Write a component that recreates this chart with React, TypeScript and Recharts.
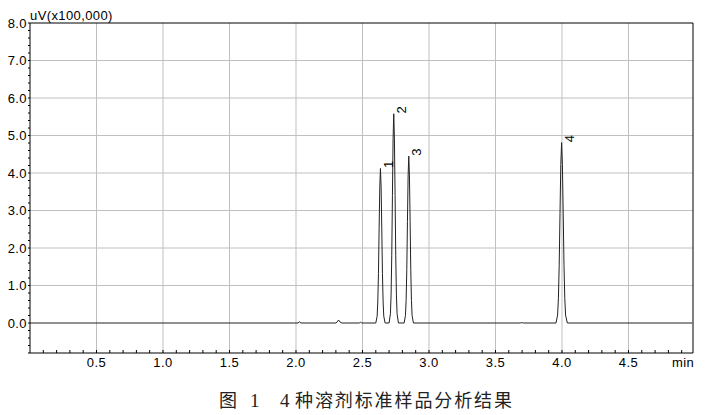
import React from 'react';
import {
  ComposedChart,
  Line,
  Scatter,
  XAxis,
  YAxis,
  ReferenceLine,
  LabelList,
  Customized,
} from 'recharts';

// ---- data ----
const times: number[] = [
  0, 2.0, 2.015, 2.026, 2.037, 2.3, 2.31, 2.32, 2.33, 2.345, 2.475, 2.485, 2.495,
  2.6, 2.61, 2.615, 2.62, 2.625, 2.63, 2.635, 2.64, 2.645, 2.65, 2.655, 2.66, 2.67,
  2.7, 2.71, 2.715, 2.72, 2.725, 2.73, 2.735, 2.74, 2.745, 2.75, 2.755, 2.76, 2.77,
  2.813, 2.823, 2.828, 2.833, 2.838, 2.843, 2.848, 2.853, 2.858, 2.863, 2.868, 2.873, 2.883,
  3.685, 3.697, 3.71,
  3.955, 3.967, 3.973, 3.979, 3.985, 3.991, 3.997, 4.003, 4.009, 4.015, 4.021, 4.027, 4.04,
  4.98,
];
const signal: number[] = [
  0, 0, 0, 0.03, 0, 0, 0.03, 0.08, 0.03, 0, 0, 0.02, 0,
  0, 0.18, 0.56, 1.32, 2.51, 3.63, 4.12, 3.63, 2.51, 1.32, 0.56, 0.18, 0,
  0, 0.25, 0.75, 1.79, 3.4, 4.91, 5.58, 4.91, 3.4, 1.79, 0.75, 0.25, 0,
  0, 0.2, 0.6, 1.42, 2.71, 3.92, 4.45, 3.92, 2.71, 1.42, 0.6, 0.2, 0,
  0, 0.01, 0,
  0, 0.21, 0.65, 1.54, 2.93, 4.23, 4.81, 4.23, 2.93, 1.54, 0.65, 0.21, 0,
  0,
];
const peakTimes: number[] = [2.635, 2.735, 2.848, 3.997];
const peakHeights: number[] = [4.12, 5.58, 4.45, 4.81];
const peakLabels: string[] = ['1', '2', '3', '4'];

const xMajorTicks: number[] = [0.5, 1.0, 1.5, 2.0, 2.5, 3.0, 3.5, 4.0, 4.5];
const xMajorLabels: string[] = ['0.5', '1.0', '1.5', '2.0', '2.5', '3.0', '3.5', '4.0', '4.5'];
const xAllTicks: number[] = [
  0.1, 0.2, 0.3, 0.4, 0.5, 0.6, 0.7, 0.8, 0.9, 1.0,
  1.1, 1.2, 1.3, 1.4, 1.5, 1.6, 1.7, 1.8, 1.9, 2.0,
  2.1, 2.2, 2.3, 2.4, 2.5, 2.6, 2.7, 2.8, 2.9, 3.0,
  3.1, 3.2, 3.3, 3.4, 3.5, 3.6, 3.7, 3.8, 3.9, 4.0,
  4.1, 4.2, 4.3, 4.4, 4.5, 4.6, 4.7, 4.8, 4.9,
];
const yMajorTicks: number[] = [0, 1, 2, 3, 4, 5, 6, 7, 8];
const yMajorLabels: string[] = ['0.0', '1.0', '2.0', '3.0', '4.0', '5.0', '6.0', '7.0', '8.0'];
const yAllTicks: number[] = [
  -0.8, -0.6, -0.4, -0.2, 0, 0.2, 0.4, 0.6, 0.8, 1, 1.2, 1.4, 1.6, 1.8, 2,
  2.2, 2.4, 2.6, 2.8, 3, 3.2, 3.4, 3.6, 3.8, 4, 4.2, 4.4, 4.6, 4.8, 5,
  5.2, 5.4, 5.6, 5.8, 6, 6.2, 6.4, 6.6, 6.8, 7, 7.2, 7.4, 7.6, 7.8, 8,
];
const xDomain: [number, number] = [0, 4.985];
const yDomain: [number, number] = [-0.8, 8];
const yUnitLabel = 'uV(x100,000)';
const xUnitLabel = 'min';
const captionFig = '图';
const captionNum = '1';
const captionN = '4';
const captionText = '种溶剂标准样品分析结果';

const chartData = times.map((t, i) => ({ t, v: signal[i] }));
const peakData = peakTimes.map((t, i) => ({ t, v: peakHeights[i], label: peakLabels[i] }));

const FONT = '"Liberation Sans", Arial, sans-serif';

const findLabel = (v: number, ticks: number[], labels: string[]) => {
  const idx = ticks.findIndex((m) => Math.abs(m - v) < 1e-6);
  return idx >= 0 ? labels[idx] : '';
};

const XTick = (props: any) => {
  const { x, y, payload } = props;
  const label = findLabel(payload.value, xMajorTicks, xMajorLabels);
  return (
    <g>
      <line x1={x} y1={y} x2={x} y2={y - 3} stroke="#000" strokeWidth={1} />
      {label && (
        <text x={x} y={y + 14} textAnchor="middle" fontSize={13} fontFamily={FONT} fill="#000" letterSpacing={0.4}>
          {label}
        </text>
      )}
    </g>
  );
};

const PeakLabel = (props: any) => {
  const { x, y, width, height, value } = props;
  const cx = x + (width || 0) / 2 + 8;
  const cy = y + (height || 0) / 2 - 4;
  return (
    <text
      x={cx}
      y={cy}
      textAnchor="middle"
      dominantBaseline="central"
      fontSize={13}
      fontFamily={FONT}
      fill="#000"
      transform={`rotate(-90, ${cx}, ${cy})`}
    >
      {value}
    </text>
  );
};

const Extras = () => (
  <g>
    <text x={30} y={20} fontSize={13} fontFamily={FONT} fill="#000" letterSpacing={0.4}>
      {yUnitLabel}
    </text>
    <text x={672} y={367} fontSize={13} fontFamily={FONT} fill="#000" letterSpacing={0.4}>
      {xUnitLabel}
    </text>
    <text x={219} y={407} fontSize={18} fontFamily='"Noto Sans CJK SC", sans-serif' fill="#222">
      {captionFig}
    </text>
    <text x={250} y={407} fontSize={19} fontFamily='"Liberation Serif", serif' fill="#222">
      {captionNum}
    </text>
    <text x={280} y={407} fontSize={19} fontFamily='"Liberation Serif", serif' fill="#222">
      {captionN}
    </text>
    <text
      x={295}
      y={407}
      fontSize={18}
      fontFamily='"Noto Sans CJK SC", sans-serif'
      fill="#222"
      textLength={217}
      lengthAdjust="spacing"
    >
      {captionText}
    </text>
  </g>
);

export default function App() {
  return (
    <div style={{ position: 'absolute', left: 0, top: 0, width: 710, height: 415, background: '#fff' }}>
      <ComposedChart
        width={710}
        height={415}
        data={chartData}
        margin={{ top: 23, right: 17, bottom: 0, left: 0 }}
      >
        <XAxis
          dataKey="t"
          type="number"
          domain={xDomain}
          ticks={xAllTicks}
          interval={0}
          allowDataOverflow
          tickSize={0}
          tickMargin={0}
          tickLine={false}
          axisLine={{ stroke: '#000' }}
          tick={<XTick />}
          height={62}
        />
        <YAxis
          type="number"
          domain={yDomain}
          ticks={yAllTicks}
          interval={0}
          allowDataOverflow
          width={30}
          tickSize={2}
          tickMargin={1}
          tickLine={{ stroke: '#000' }}
          axisLine={{ stroke: '#000' }}
          tick={{ fontSize: 13, fontFamily: FONT, fill: '#000', letterSpacing: 0.4 } as any}
          tickFormatter={(v: number) => findLabel(v, yMajorTicks, yMajorLabels)}
        />
        {xMajorTicks.map((t) => (
          <ReferenceLine key={'gx' + t} x={t} stroke="#c0c0c0" strokeWidth={1} />
        ))}
        {yMajorTicks.slice(1, -1).map((t) => (
          <ReferenceLine key={'gy' + t} y={t} stroke="#c0c0c0" strokeWidth={1} />
        ))}
        <ReferenceLine y={yDomain[1]} stroke="#000" strokeWidth={1} />
        <ReferenceLine x={xDomain[1]} stroke="#000" strokeWidth={1} />
        <Line
          dataKey="v"
          type="linear"
          stroke="#222"
          strokeWidth={1}
          dot={false}
          activeDot={false}
          isAnimationActive={false}
        />
        <Scatter
          data={peakData}
          dataKey="v"
          isAnimationActive={false}
          shape={() => <g />}
        >
          <LabelList dataKey="label" content={<PeakLabel />} />
        </Scatter>
        <Customized component={<Extras />} />
      </ComposedChart>
    </div>
  );
}
